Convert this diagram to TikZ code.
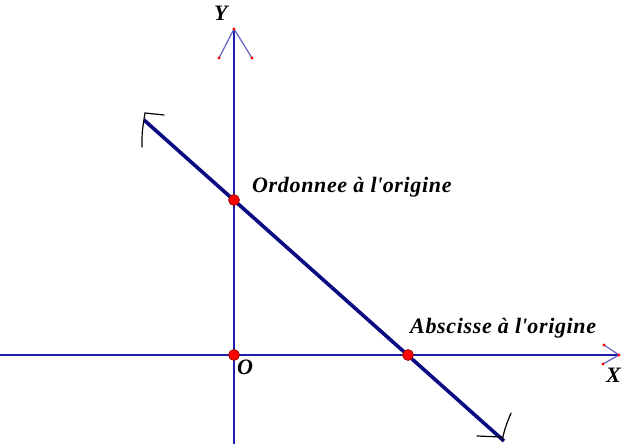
\documentclass[tikz,border=0pt]{standalone}
\usepackage{fontspec}
\setmainfont{Liberation Serif}
\newfontfamily\lblfont[LetterSpace=3]{Liberation Serif}
\begin{document}
\begin{tikzpicture}[x=1pt,y=-1pt,
  axis/.style={draw=axisblue,line width=1.3pt},
  barb/.style={draw=axisblue!70,line width=1.2pt},
  mainline/.style={draw=navy,line width=3.6pt},
  pt/.style={circle,fill=red,draw=red!50!black,line width=0.6pt,inner sep=0pt,minimum size=11pt},
  tipdot/.style={circle,fill=red,inner sep=0pt,minimum size=3.2pt},
  lbl/.style={font=\lblfont\fontsize{22}{24}\selectfont\bfseries\itshape,text=black,inner sep=0pt},
  hand/.style={draw=black,line width=1.2pt,line cap=round}]
\definecolor{axisblue}{RGB}{30,30,170}
\definecolor{navy}{RGB}{10,10,130}
\useasboundingbox (0,0) rectangle (624,444);
% axes
\coordinate (xl) at (0,355);
\coordinate (xr) at (619,355);
\coordinate (yb) at (234,444);
\coordinate (yt) at (234,29);
\draw[axis] (xl) -- (xr);
\draw[axis] (yb) -- (yt);
% arrow barbs
\coordinate (yb1) at (219,58);
\coordinate (yb2) at (252,58);
\coordinate (xb1) at (604,345);
\coordinate (xb2) at (603,364);
\draw[barb] (yb1) -- (yt) -- (yb2);
\draw[barb] (xb1) -- (xr) -- (xb2);
\foreach \c in {yb1,yb2,yt,xb1,xb2,xr} \node[tipdot] at (\c) {};
% main line
\coordinate (p1) at (144,120);
\coordinate (p2) at (504,441);
\draw[mainline] (p1) -- (p2);
% hand marks
\draw[hand] (142,147) .. controls (142,132) .. (145,113) -- (164,115);
\draw[hand] (477,436) -- (502,437);
\draw[hand] (502,441) .. controls (505,428) .. (511,413);
% points
\node[pt] (O) at (234,355) {};
\node[pt] (A) at (234,200) {};
\node[pt] (B) at (408,355) {};
% labels
\node[lbl,anchor=base west] (la) at (252,192) {Ordonnee à l\textquotesingle origine};
\node[lbl,anchor=base west] (lb) at (410,333) {Abscisse à l\textquotesingle origine};
\node[lbl,anchor=base west] (lO) at (237,374) {O};
\node[lbl,anchor=base west] (lY) at (214,21) {Y};
\node[lbl,anchor=base west] (lX) at (606,382) {X};
\end{tikzpicture}
\end{document}
